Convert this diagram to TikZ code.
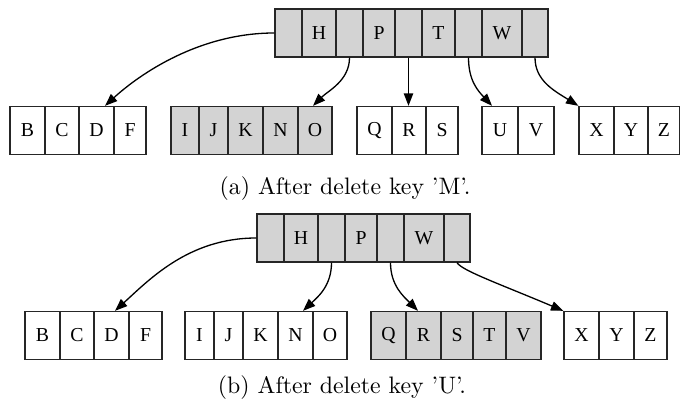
\documentclass[tikz,border=0pt]{standalone}
\usepackage{fontspec}
\usetikzlibrary{arrows.meta,calc}
\newfontfamily\cellfont{Liberation Serif}
\definecolor{gvgray}{HTML}{D3D3D3}
\newcommand\drawrecord[4]{%
  \foreach \xa/\xb/\t [count=\i] in {#4} {
    \node[cell, fill=#3, minimum width={(\xb-\xa)*0.42pt}] (#1-\i) at ({(\xa+\xb)/2}, #2) {\t};
  }}
\tikzset{
  cell/.style={draw=black!85, line width=0.55pt, inner sep=0pt, minimum height=20.16pt,
    font=\cellfont\fontsize{8.3}{10}\selectfont},
  arr/.style={line width=0.55pt, -{Triangle[length=5.2pt,width=3.9pt]}},
  captext/.style={anchor=base, font=\fontsize{10}{12}\selectfont}
}
\begin{document}
\begin{tikzpicture}[x=0.42pt, y=-0.42pt]
\useasboundingbox (0,0) rectangle (680,411);
% (a)
\drawrecord{ra}{33}{gvgray}{275/302/{}, 302/336/H, 336/363/{}, 363/395/P, 395/422/{}, 422/455/T, 455/482/{}, 482/522/W, 522/548/{}}
\drawrecord{ca1}{130.5}{white}{10/45/B, 45/79/C, 79/114/D, 114/146/F}
\drawrecord{ca2}{130.5}{gvgray}{171/199/I, 199/228/J, 228/263/K, 263/298/N, 298/332/O}
\drawrecord{ca3}{130.5}{white}{357/392/Q, 392/426/R, 426/458/S}
\drawrecord{ca4}{130.5}{white}{482/518/U, 518/554/V}
\drawrecord{ca5}{130.5}{white}{579/614/X, 614/648/Y, 648/679.6/Z}
\draw[arr] (ra-1.west) .. controls +(-75,0) and +(35,-32) .. ($(ca1-3.north)+(8.5,0)$);
\draw[arr] (ra-3.south) .. controls +(0,23) and +(15,-15) .. ($(ca2-5.north)+(-2,0)$);
\draw[arr] (ra-5.south) -- (ra-5.south |- ca3-2.north);
\draw[arr] (ra-7.south) .. controls +(0,23) and +(-14,-15) .. ($(ca4-1.north)+(-8,0)$);
\draw[arr] (ra-9.south) .. controls +(0,23) and +(-24,-15) .. (ca5-1.north west);
\node[captext] (capa) at (345,195) {(a) After delete key 'M'.};
% (b)
\drawrecord{rb}{238}{gvgray}{257/284/{}, 284/318/H, 318/345/{}, 345/377/P, 377/404/{}, 404/444/W, 444/470/{}}
\drawrecord{cb1}{335.5}{white}{25/60/B, 60/94/C, 94/129/D, 129/162/F}
\drawrecord{cb2}{335.5}{white}{185/214/I, 214/243/J, 243/278/K, 278/313/N, 313/347/O}
\drawrecord{cb3}{335.5}{gvgray}{371/406/Q, 406/441/R, 441/473/S, 473/506/T, 506/541/V}
\drawrecord{cb4}{335.5}{white}{564/599/X, 599/634/Y, 634/667/Z}
\draw[arr] (rb-1.west) .. controls +(-67,0) and +(35,-32) .. ($(cb1-3.north)+(3.5,0)$);
\draw[arr] (rb-3.south) .. controls +(0,23) and +(15,-14) .. ($(cb2-4.north)+(7.5,0)$);
\draw[arr] (rb-5.south) .. controls +(0,23) and +(-14,-14) .. ($(cb3-2.north)+(-5.5,0)$);
\draw[arr] (rb-7.south) .. controls +(5,8) and +(-64,-27) .. (cb4-1.north west);
\node[captext] (capb) at (342,394) {(b) After delete key 'U'.};
\end{tikzpicture}
\end{document}
